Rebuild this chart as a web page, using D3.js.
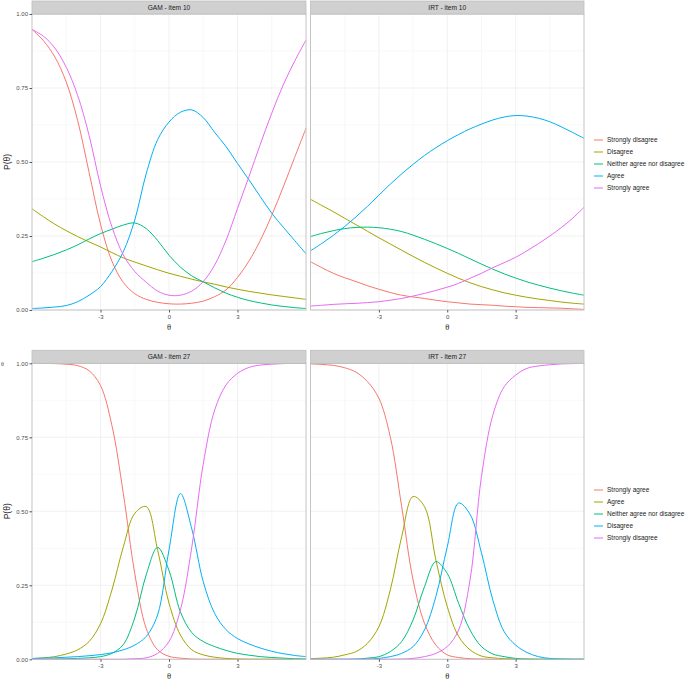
<!DOCTYPE html>
<html>
<head>
<meta charset="utf-8">
<script src="https://cdn.jsdelivr.net/npm/d3@7"></script>
<style>
  body { margin: 0; background: #fff; }
  svg { display: block; font-family: "Liberation Sans", Arial, sans-serif; }
</style>
</head>
<body>
<svg id="chart" width="685" height="681"></svg>
<script>
// theta grid shared by every panel
const theta = [-6, -5.5, -5, -4.5, -4, -3.5, -3, -2.5, -2, -1.5, -1, -0.5, 0,
  0.5, 1, 1.5, 2, 2.5, 3, 3.5, 4, 4.5, 5, 5.5, 6];

const xTicks = [-3, 0, 3];
const yTicks = [0, 0.25, 0.5, 0.75, 1];

const item10Labels = ["Strongly disagree", "Disagree", "Neither agree nor disagree", "Agree", "Strongly agree"];
const item27Labels = ["Strongly agree", "Agree", "Neither agree nor disagree", "Disagree", "Strongly disagree"];
const hue = ["#F8766D", "#A3A500", "#00BF7D", "#00B0F6", "#E76BF3"];

// GAM - item 10
const gam10_c1 = [.948, .91, .855, .77, .64, .465, .29, .165, .093, .055, .036, .026, .021, .02, .023, .03, .045, .068, .11, .165, .235, .32, .415, .515, .614];
const gam10_c2 = [.342, .315, .29, .268, .248, .23, .213, .194, .176, .162, .149, .136, .124, .114, .104, .095, .087, .078, .07, .063, .057, .051, .046, .041, .036];
const gam10_c3 = [.163, .175, .188, .203, .22, .24, .258, .273, .287, .294, .275, .235, .185, .145, .115, .095, .075, .057, .043, .032, .024, .017, .012, .008, .005];
const gam10_c4 = [.005, .007, .01, .015, .028, .05, .079, .13, .197, .304, .46, .575, .635, .668, .676, .65, .6, .552, .495, .44, .383, .327, .28, .235, .19];
const gam10_c5 = [.948, .925, .885, .82, .725, .59, .42, .281, .186, .13, .094, .064, .05, .05, .064, .096, .152, .236, .343, .45, .56, .665, .76, .84, .912];

// IRT - item 10
const irt10_c1 = [.163, .143, .124, .109, .096, .082, .07, .059, .05, .044, .039, .033, .028, .024, .02, .018, .016, .013, .011, .009, .008, .007, .006, .004, .002];
const irt10_c2 = [.374, .353, .332, .31, .288, .266, .244, .223, .202, .181, .161, .142, .124, .107, .092, .079, .068, .058, .05, .043, .037, .032, .027, .023, .02];
const irt10_c3 = [.248, .259, .268, .275, .279, .28, .278, .273, .265, .253, .239, .224, .208, .191, .173, .155, .138, .122, .108, .095, .084, .074, .065, .057, .05];
const irt10_c4 = [.2, .225, .252, .282, .315, .35, .388, .425, .46, .492, .522, .548, .572, .593, .612, .628, .642, .652, .657, .655, .648, .636, .619, .6, .58];
const irt10_c5 = [.0135, .016, .019, .021, .0225, .025, .028, .033, .039, .047, .056, .066, .077, .09, .107, .124, .143, .16, .178, .2, .224, .25, .278, .31, .347];

// GAM - item 27
const gam27_c1 = [1, 1, .999, .997, .992, .975, .925, .79, .56, .29, .105, .032, .01, .004, .001, 0, 0, 0, 0, 0, 0, 0, 0, 0, 0];
const gam27_c2 = [.002, .005, .009, .018, .032, .06, .12, .234, .38, .493, .516, .37, .19, .082, .032, .015, .007, .003, .001, 0, 0, 0, 0, 0, 0];
const gam27_c3 = [0, 0, .001, .002, .003, .005, .009, .02, .05, .14, .285, .378, .3, .16, .09, .06, .043, .03, .02, .014, .009, .006, .004, .002, .001];
const gam27_c4 = [.003, .004, .005, .007, .009, .012, .016, .022, .032, .048, .077, .15, .37, .56, .44, .262, .155, .1, .07, .052, .038, .027, .019, .013, .009];
const gam27_c5 = [0, 0, 0, 0, 0, 0, 0, 0, 0, .002, .005, .02, .06, .167, .38, .66, .842, .927, .966, .986, .994, .997, .999, 1, 1];

// IRT - item 27
const irt27_c1 = [.998, .996, .993, .985, .97, .938, .882, .752, .516, .268, .122, .048, .015, .006, .002, .001, 0, 0, 0, 0, 0, 0, 0, 0, 0];
const irt27_c2 = [.002, .004, .007, .015, .026, .054, .11, .234, .414, .55, .516, .336, .178, .077, .032, .011, .005, .002, .001, 0, 0, 0, 0, 0, 0];
const irt27_c3 = [0, 0, 0, 0, 0, .004, .009, .026, .06, .133, .245, .33, .29, .189, .099, .043, .018, .009, .003, .001, 0, 0, 0, 0, 0];
const irt27_c4 = [0, 0, 0, 0, .001, .001, .003, .009, .02, .043, .099, .212, .38, .528, .49, .36, .2, .093, .048, .023, .009, .003, .001, 0, 0];
const irt27_c5 = [0, 0, 0, 0, 0, 0, 0, 0, .001, .003, .009, .02, .043, .099, .268, .617, .825, .921, .96, .983, .991, .995, .998, .999, 1];

const svg = d3.select("#chart");

const panels = [
  { title: "GAM - item 10", left: 32, right: 306, top: 14, bottom: 310, yAxis: true,
    series: [gam10_c1, gam10_c2, gam10_c3, gam10_c4, gam10_c5] },
  { title: "IRT - item 10", left: 310.5, right: 584, top: 14, bottom: 310, yAxis: false,
    series: [irt10_c1, irt10_c2, irt10_c3, irt10_c4, irt10_c5] },
  { title: "GAM - item 27", left: 32, right: 306, top: 363.3, bottom: 659.3, yAxis: true,
    series: [gam27_c1, gam27_c2, gam27_c3, gam27_c4, gam27_c5] },
  { title: "IRT - item 27", left: 310.5, right: 584, top: 363.3, bottom: 659.3, yAxis: false,
    series: [irt27_c1, irt27_c2, irt27_c3, irt27_c4, irt27_c5] }
];

panels.forEach(p => {
  const x = d3.scaleLinear().domain([-6, 6]).range([p.left, p.right]);
  const y = d3.scaleLinear().domain([0, 1]).range([p.bottom, p.top]);
  const g = svg.append("g");

  // panel background + grid
  g.append("rect").attr("x", p.left).attr("y", p.top)
    .attr("width", p.right - p.left).attr("height", p.bottom - p.top).attr("fill", "#fff");

  const minorX = [-4.5, -1.5, 1.5, 4.5], minorY = [0.125, 0.375, 0.625, 0.875];
  g.selectAll(".mx").data(minorX).join("line")
    .attr("x1", d => x(d)).attr("x2", d => x(d)).attr("y1", p.top).attr("y2", p.bottom)
    .attr("stroke", "#f4f4f4").attr("stroke-width", 0.6);
  g.selectAll(".my").data(minorY).join("line")
    .attr("y1", d => y(d)).attr("y2", d => y(d)).attr("x1", p.left).attr("x2", p.right)
    .attr("stroke", "#f4f4f4").attr("stroke-width", 0.6);
  g.selectAll(".gx").data(xTicks).join("line")
    .attr("x1", d => x(d)).attr("x2", d => x(d)).attr("y1", p.top).attr("y2", p.bottom)
    .attr("stroke", "#ebebeb").attr("stroke-width", 0.7);
  g.selectAll(".gy").data(yTicks).join("line")
    .attr("y1", d => y(d)).attr("y2", d => y(d)).attr("x1", p.left).attr("x2", p.right)
    .attr("stroke", "#ebebeb").attr("stroke-width", 0.7);

  // curves
  const line = d3.line()
    .x((d, i) => x(theta[i]))
    .y(d => y(d))
    .curve(d3.curveCatmullRom.alpha(0.5));

  g.selectAll(".curve").data(p.series).join("path")
    .attr("class", "curve")
    .attr("d", line)
    .attr("fill", "none")
    .attr("stroke", (d, i) => hue[i])
    .attr("stroke-width", 1);

  // border
  g.append("rect").attr("x", p.left).attr("y", p.top)
    .attr("width", p.right - p.left).attr("height", p.bottom - p.top)
    .attr("fill", "none").attr("stroke", "#c4c4c4").attr("stroke-width", 1);

  // strip
  g.append("rect").attr("x", p.left).attr("y", p.top - 13)
    .attr("width", p.right - p.left).attr("height", 13)
    .attr("fill", "#d0d0d0").attr("stroke", "#bdbdbd").attr("stroke-width", 0.8);
  g.append("text").attr("x", (p.left + p.right) / 2).attr("y", p.top - 4.2)
    .attr("text-anchor", "middle").attr("font-size", 6.6).attr("fill", "#1a1a1a")
    .text(p.title);

  // x axis
  const xa = g.append("g").attr("transform", `translate(0,${p.bottom})`)
    .call(d3.axisBottom(x).tickValues(xTicks).tickFormat(d => String(d)).tickSize(2.5).tickPadding(2));
  xa.select(".domain").remove();
  xa.selectAll("line").attr("stroke", "#555");
  xa.selectAll("text").attr("font-size", 6).attr("fill", "#4d4d4d")
    .attr("font-family", "Liberation Sans, Arial, sans-serif");

  g.append("text").attr("x", (p.left + p.right) / 2).attr("y", p.bottom + 20)
    .attr("text-anchor", "middle").attr("font-size", 8.5)
    .attr("font-family", "Liberation Serif, serif").attr("fill", "#222").text("θ");

  if (p.yAxis) {
    const ya = g.append("g").attr("transform", `translate(${p.left},0)`)
      .call(d3.axisLeft(y).tickValues(yTicks).tickFormat(d3.format(".2f")).tickSize(2.5).tickPadding(1.5));
    ya.select(".domain").remove();
    ya.selectAll("line").attr("stroke", "#555");
    ya.selectAll("text").attr("font-size", 6).attr("fill", "#4d4d4d")
      .attr("font-family", "Liberation Sans, Arial, sans-serif");

    const ty = (p.top + p.bottom) / 2;
    g.append("text").attr("transform", `translate(9.5,${ty}) rotate(-90)`)
      .attr("text-anchor", "middle").attr("font-size", 8.5).attr("fill", "#222")
      .text("P(θ)");
  }
});

// legends
function legend(labels, top) {
  const lg = svg.append("g").attr("transform", `translate(594,${top})`);
  const rows = lg.selectAll("g").data(labels).join("g")
    .attr("transform", (d, i) => `translate(0,${i * 12})`);
  rows.append("line").attr("x1", 0).attr("x2", 9).attr("y1", 0).attr("y2", 0)
    .attr("stroke", (d, i) => hue[i]).attr("stroke-width", 1);
  rows.append("text").attr("x", 13).attr("y", 2.2).attr("font-size", 6.5)
    .attr("fill", "#1a1a1a").text(d => d);
}
legend(item10Labels, 140);
legend(item27Labels, 490);

// stray label left over at the top of the lower row
svg.append("text").attr("x", 1).attr("y", 366).attr("font-size", 6)
  .attr("font-family", "Liberation Serif, serif").attr("fill", "#444").text("θ");
</script>
</body>
</html>
